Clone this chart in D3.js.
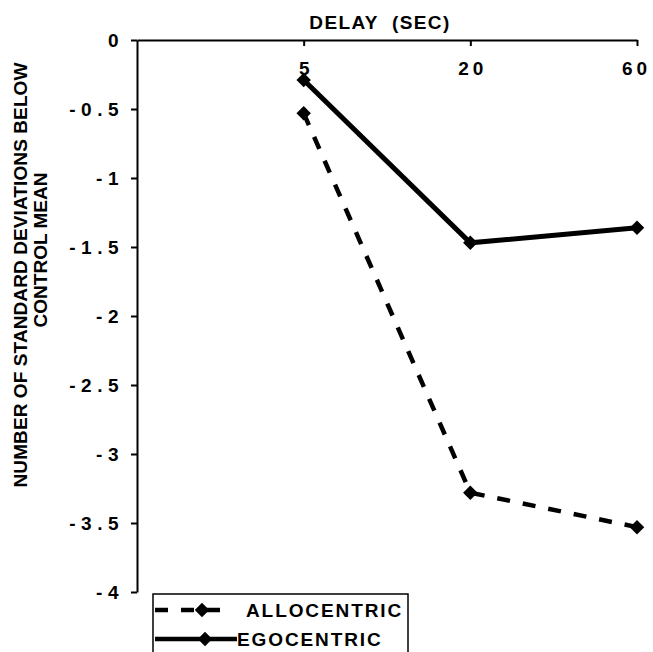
<!DOCTYPE html>
<html>
<head>
<meta charset="utf-8">
<script src="https://cdn.jsdelivr.net/npm/d3@7"></script>
<style>
    body { margin: 0; background: #fff; }
    text { font-family: "Liberation Sans", Arial, Helvetica, sans-serif; font-weight: bold; fill: #000; }
</style>
</head>
<body>
<svg id="chart" width="653" height="652"></svg>
<script>
// delay slots on the category axis ("0" is only the origin, no data there)
const delays = ["0", "5", "20", "60"];
const delayTicks = ["5", "20", "60"];
const yTicks = [0, -0.5, -1, -1.5, -2, -2.5, -3, -3.5, -4];

const allocentric = [-0.53, -3.28, -3.53];
const egocentric = [-0.29, -1.47, -1.36];

const series = [
    {name: "ALLOCENTRIC", values: allocentric, dash: "13,13"},
    {name: "EGOCENTRIC", values: egocentric, dash: null}
];

const svg = d3.select("#chart");

const x = d3.scalePoint()
    .domain(delays)
    .range([137, 637]);

const y = d3.scaleLinear()
    .domain([0, -4])
    .range([40, 592]);

// top axis (value 0 line)
const xAxis = svg.append("g")
    .attr("transform", `translate(0,${y(0)})`)
    .call(d3.axisBottom(x).tickValues(delayTicks).tickSize(6).tickSizeOuter(0).tickPadding(16));
xAxis.select(".domain").attr("stroke-width", 2);
xAxis.selectAll(".tick line").attr("stroke-width", 2);
xAxis.selectAll(".tick text")
    .attr("font-size", 19)
    .attr("letter-spacing", 4)
    .attr("dx", d => d === "60" ? -1 : 2);

const yAxis = svg.append("g")
    .attr("transform", `translate(${x("0")},0)`)
    .call(d3.axisLeft(y).tickValues(yTicks).tickSize(6).tickSizeOuter(0).tickPadding(7)
        .tickFormat(d => String(d)));
yAxis.select(".domain").attr("stroke-width", 2);
yAxis.selectAll(".tick line").attr("stroke-width", 2);
yAxis.selectAll(".tick text")
    .attr("font-size", 19)
    .attr("letter-spacing", 5.5);

// titles
svg.append("text")
    .attr("x", 380)
    .attr("y", 29)
    .attr("text-anchor", "middle")
    .attr("font-size", 19)
    .attr("letter-spacing", 1.4)
    .style("white-space", "pre")
    .text("DELAY  (SEC)");

svg.append("text")
    .attr("transform", "translate(27,275) rotate(-90)")
    .attr("text-anchor", "middle")
    .attr("font-size", 19)
    .attr("letter-spacing", 0.1)
    .text("NUMBER OF STANDARD DEVIATIONS BELOW");

svg.append("text")
    .attr("transform", "translate(47,250) rotate(-90)")
    .attr("text-anchor", "middle")
    .attr("font-size", 19)
    .text("CONTROL MEAN");

// lines
const line = d3.line()
    .x((d, i) => x(delayTicks[i]))
    .y(d => y(d));

const marker = d3.symbol().type(d3.symbolSquare).size(105);

series.forEach(s => {
    svg.append("path")
        .datum(s.values)
        .attr("fill", "none")
        .attr("stroke", "#000")
        .attr("stroke-width", s.dash ? 4.5 : 5)
        .attr("stroke-dasharray", s.dash)
        .attr("d", line);

    svg.append("g")
        .selectAll("path")
        .data(s.values)
        .join("path")
        .attr("d", marker)
        .attr("transform", (d, i) => `translate(${x(delayTicks[i])},${y(d)}) rotate(45)`)
        .attr("fill", "#000");
});

// legend
const legend = svg.append("g");
legend.append("rect")
    .attr("x", 153)
    .attr("y", 594)
    .attr("width", 255)
    .attr("height", 80)
    .attr("fill", "#fff")
    .attr("stroke", "#000")
    .attr("stroke-width", 1.5);

const legendRows = [
    {s: series[0], y: 610, lineEnd: 223, mark: 202, textX: 246},
    {s: series[1], y: 639, lineEnd: 237, mark: 205, textX: 237}
];

legendRows.forEach(r => {
    legend.append("line")
        .attr("x1", 155)
        .attr("x2", r.lineEnd)
        .attr("y1", r.y)
        .attr("y2", r.y)
        .attr("stroke", "#000")
        .attr("stroke-width", 4.5)
        .attr("stroke-dasharray", r.s.dash);
    legend.append("path")
        .attr("d", marker)
        .attr("transform", `translate(${r.mark},${r.y}) rotate(45)`)
        .attr("fill", "#000");
    legend.append("text")
        .attr("x", r.textX)
        .attr("y", r.y + 7)
        .attr("font-size", 19)
        .attr("letter-spacing", 1.9)
        .text(r.s.name);
});
</script>
</body>
</html>
